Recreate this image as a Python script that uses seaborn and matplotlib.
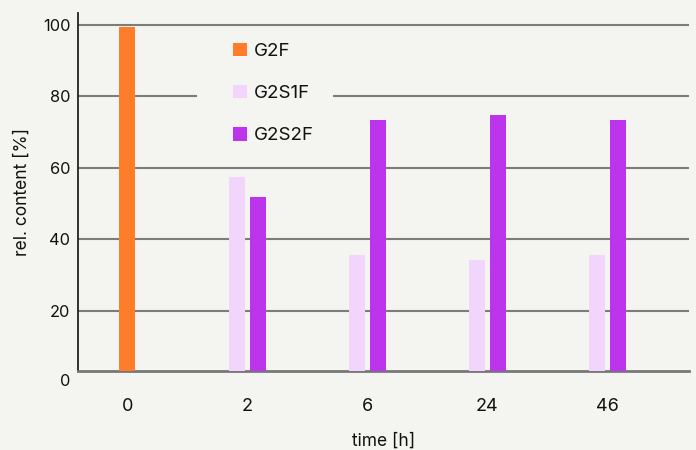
import numpy as np
import pandas as pd
import matplotlib
matplotlib.use("Agg")
import matplotlib.pyplot as plt
import matplotlib.transforms as mtransforms
from matplotlib.patches import Patch, Rectangle
import seaborn as sns

# ---- data ----
times = ["0", "2", "6", "24", "46"]
series = ["G2F", "G2S1F", "G2S2F"]
g2f = [99.5, np.nan, np.nan, np.nan, np.nan]
g2s1f = [np.nan, 57.4, 35.5, 34.1, 35.5]
g2s2f = [np.nan, 51.8, 73.4, 74.7, 73.4]
colors = {"G2F": "#FF7D2A", "G2S1F": "#F1D5FC", "G2S2F": "#BC35EC"}
yticks = [20, 40, 60, 80, 100]

rows = []
for name, vals in zip(series, [g2f, g2s1f, g2s2f]):
    for t, v in zip(times, vals):
        if not np.isnan(v):
            rows.append({"time": t, "series": name, "value": v})
df = pd.DataFrame(rows)

bg = "#F4F4F0"
sns.set_theme(style="white")
plt.rcParams["font.family"] = ["Inter", "DejaVu Sans"]
plt.rcParams["text.color"] = "#111111"

fig = plt.figure(figsize=(6.96, 4.5), dpi=100, facecolor=bg)
ax = fig.add_axes([78 / 696, 1 - 371 / 450, (689 - 78) / 696, (371 - 13) / 450])
ax.set_facecolor(bg)

sns.barplot(data=df[df["series"] == "G2F"], x="time", y="value", order=times,
            color=colors["G2F"], width=0.133, saturation=1, ax=ax, zorder=3,
            linewidth=0, edgecolor="none")
sns.barplot(data=df[df["series"] != "G2F"], x="time", y="value", order=times,
            hue="series", hue_order=["G2S1F", "G2S2F"], palette=colors,
            width=0.347, gap=0.24, saturation=1, ax=ax, legend=False, zorder=3,
            linewidth=0, edgecolor="none")

ax.set_xlim(-0.41, 4.68)
ax.set_ylim(3.06, 103.4)
ax.set_yticks(yticks)
ax.set_yticklabels([str(v) for v in yticks])
ax.grid(False)
for v in yticks:
    ax.axhline(v, color="#7d7d78", lw=1.5, zorder=1)

ax.tick_params(axis="y", length=0, pad=5.5, labelsize=11.8, labelcolor="#111111")
ax.tick_params(axis="x", length=0, pad=19.5, labelsize=13, labelcolor="#111111")
# "0" label sits below the visible axis range
trans = mtransforms.blended_transform_factory(ax.transAxes, ax.transData)
ax.text(-0.0125, 0, "0", transform=trans,
        ha="right", va="center", fontsize=11.8, color="#111111", clip_on=False)

for s in ["top", "right"]:
    ax.spines[s].set_visible(False)
ax.spines["left"].set_color("#222222")
ax.spines["left"].set_linewidth(1.3)
ax.spines["bottom"].set_color("#777777")
ax.spines["bottom"].set_linewidth(2)

ax.set_xlabel("time [h]", fontsize=12.5, labelpad=13, color="#111111")
ax.set_ylabel("rel. content [%]", fontsize=12.5, labelpad=9, color="#111111")

# legend background block hiding the gridlines
ax.add_patch(Rectangle((197 / 696, 1 - 158 / 450), (333 - 197) / 696, (158 - 27) / 450,
                       transform=fig.transFigure, facecolor=bg, edgecolor="none",
                       zorder=2))

handles = [Patch(facecolor=colors[s], edgecolor="none") for s in series]
leg = ax.legend(handles, series, loc="upper left",
                bbox_to_anchor=(233 / 696, 1 - 42.5 / 450), bbox_transform=fig.transFigure,
                frameon=False, fontsize=13.5, handlelength=0.75, handleheight=0.75,
                handletextpad=0.37, labelspacing=1.32, borderpad=0,
                borderaxespad=0)
leg.set_zorder(5)

fig.savefig("out.png", dpi=100, facecolor=bg)
